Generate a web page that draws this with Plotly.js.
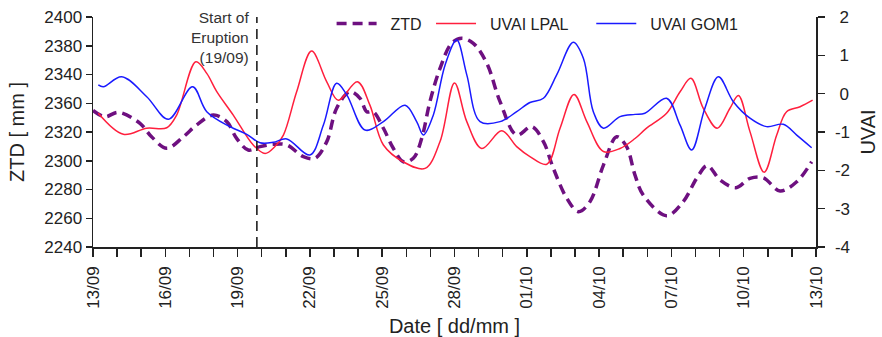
<!DOCTYPE html>
<html>
<head>
<meta charset="utf-8">
<script src="https://cdn.plot.ly/plotly-3.0.1.min.js"></script>
<style>html,body{margin:0;padding:0;background:#fff;}#chart{width:882px;height:337px;}</style>
</head>
<body>
<div id="chart"></div>
<script>
// x = days since 13/09
const xTickVals = [0, 3, 6, 9, 12, 15, 18, 21, 24, 27, 30];
const xTickText = ['13/09', '16/09', '19/09', '22/09', '25/09', '28/09', '01/10', '04/10', '07/10', '10/10', '13/10'];
const ztdTickVals = [2240, 2260, 2280, 2300, 2320, 2340, 2360, 2380, 2400];
const ztdTickText = ['2240', '2260', '2280', '2300', '2320', '2360', '2340', '2380', '2400'];
const uvaiTickVals = [-4, -3, -2, -1, 0, 1, 2];
const uvaiTickText = ['-4', '-3', '-2', '-1', '\u00a00', '\u00a01', '\u00a02'];
const eruptionDay = 6.8;

const ztdDay = [0.0, 0.5, 1.05, 1.95, 2.43, 3.06, 3.75, 4.3, 4.99, 5.55, 5.96, 6.44, 6.93, 7.48, 8.04, 8.73, 9.21, 9.7, 10.11, 10.66, 11.08, 11.36, 11.63, 12.05, 12.46, 12.88, 13.29, 13.64, 13.98, 14.4, 14.88, 15.3, 15.78, 16.34, 16.89, 17.58, 18.2, 18.69, 19.1, 19.66, 20.14, 20.62, 21.18, 21.73, 22.14, 22.49, 22.83, 23.8, 24.49, 25.05, 25.49, 26.02, 26.68, 27.26, 27.81, 28.51, 29.2, 29.82];
const ztdValue = [2335, 2330.6, 2333.7, 2326, 2316.7, 2308.7, 2316.7, 2324.9, 2331.8, 2327.2, 2315.6, 2307.5, 2309.8, 2311.4, 2311, 2302.8, 2301.7, 2313.3, 2336.5, 2348, 2343.4, 2334.1, 2334.1, 2322.6, 2308.7, 2299.3, 2301.7, 2315.6, 2341.1, 2364.3, 2381.7, 2385.2, 2381.7, 2367.8, 2341.1, 2317.9, 2323.7, 2313.3, 2294.8, 2273.9, 2264.6, 2271.5, 2297, 2316.7, 2309.8, 2290, 2276.2, 2261.8, 2271.5, 2287.8, 2296.6, 2286.6, 2281.3, 2287.8, 2288.2, 2279, 2285.4, 2299.3];

const lpalDay = [0.22, 1.26, 2.23, 3.06, 3.47, 4.27, 4.72, 5.13, 5.82, 6.65, 7.14, 7.55, 7.9, 8.45, 9.07, 9.7, 10.18, 10.97, 11.49, 12.05, 12.88, 13.78, 14.4, 15.0, 15.51, 16.13, 16.96, 17.58, 18.13, 18.83, 19.38, 19.96, 20.49, 21.18, 21.87, 22.49, 22.97, 23.8, 24.36, 24.81, 25.32, 25.9, 26.43, 26.78, 27.26, 27.85, 28.37, 28.78, 29.34, 29.86];
const lpalValue = [-0.51, -1.06, -0.9, -0.89, -0.56, 0.83, 0.53, 0.06, -0.56, -1.34, -1.56, -1.38, -1.08, 0.05, 1.11, 0.31, -0.17, 0.31, -0.3, -1.34, -1.78, -1.95, -1.25, 0.28, -0.73, -1.43, -0.97, -1.38, -1.64, -1.84, -0.9, -0.02, -0.73, -1.51, -1.43, -1.17, -0.9, -0.51, 0.05, 0.4, -0.38, -0.9, -0.38, -0.05, -0.99, -2.05, -1.08, -0.47, -0.34, -0.17];

const gomDay = [0.22, 0.43, 1.19, 2.23, 3.13, 4.13, 4.72, 5.68, 6.38, 6.93, 7.48, 8.04, 9.0, 9.56, 10.11, 10.53, 11.29, 12.05, 12.95, 13.43, 13.71, 14.12, 14.61, 15.09, 15.51, 16.06, 16.89, 17.58, 18.13, 18.69, 19.24, 19.93, 20.35, 20.76, 21.18, 21.87, 22.49, 22.9, 23.8, 24.36, 24.84, 25.39, 25.95, 26.57, 27.26, 27.95, 28.64, 29.2, 29.82];
const gomValue = [0.23, 0.18, 0.44, -0.08, -0.67, 0.18, -0.47, -0.86, -1.06, -1.28, -1.27, -1.18, -1.6, -0.82, 0.27, -0.03, -0.95, -0.73, -0.3, -0.73, -1.08, -0.56, 0.75, 1.4, 0.49, -0.73, -0.73, -0.47, -0.23, -0.12, 0.49, 1.34, 0.92, -0.47, -0.9, -0.6, -0.54, -0.51, -0.12, -0.82, -1.47, -0.38, 0.44, -0.21, -0.64, -0.86, -0.8, -1.08, -1.41];

const seriesNames = ['\u00a0\u00a0ZTD\u00a0', '\u00a0\u00a0UVAI LPAL\u00a0\u00a0\u00a0\u00a0', '\u00a0\u00a0UVAI GOM1'];

const FONT = '"Liberation Sans", Arial, sans-serif';
const TXT = '#222';

const traces = [
  {x: ztdDay, y: ztdValue, name: seriesNames[0], type: 'scatter', mode: 'lines', yaxis: 'y',
   line: {color: '#6E1080', width: 3.5, dash: '10px,6px', shape: 'spline', smoothing: 1}},
  {x: lpalDay, y: lpalValue, name: seriesNames[1], type: 'scatter', mode: 'lines', yaxis: 'y2',
   line: {color: '#FF1F3D', width: 1.5, shape: 'spline', smoothing: 1}},
  {x: gomDay, y: gomValue, name: seriesNames[2], type: 'scatter', mode: 'lines', yaxis: 'y2',
   line: {color: '#1A1AFF', width: 1.5, shape: 'spline', smoothing: 1}}
];

const layout = {
  width: 882, height: 337,
  margin: {l: 93, r: 66, t: 17, b: 90, autoexpand: false},
  paper_bgcolor: '#fff', plot_bgcolor: '#fff',
  font: {family: FONT, color: TXT, size: 17},
  showlegend: true,
  legend: {orientation: 'h', x: 0.33, xanchor: 'left', y: 1.045, yanchor: 'top',
           font: {size: 16, color: TXT}, itemwidth: 40, bgcolor: 'rgba(0,0,0,0)', traceorder: 'normal'},
  xaxis: {
    range: [0, 30], tickmode: 'array', tickvals: xTickVals, ticktext: xTickText, tickangle: -90,
    showgrid: false, zeroline: false, showline: true, linecolor: '#222', linewidth: 1.5,
    ticks: 'outside', ticklen: 8, tickwidth: 1.5, tickcolor: '#222',
    tickfont: {size: 17, color: TXT}, ticklabelstandoff: 3,
    minor: {tickmode: 'linear', tick0: 0, dtick: 1, ticks: 'outside', ticklen: 8, tickwidth: 1.5, tickcolor: '#222', showgrid: false},
    title: {text: 'Date [ dd/mm ]', font: {size: 20, color: TXT}, standoff: 12}
  },
  yaxis: {
    range: [2240, 2400], tickmode: 'array', tickvals: ztdTickVals, ticktext: ztdTickText,
    showgrid: false, zeroline: false, showline: true, linecolor: '#222', linewidth: 1.5,
    ticks: 'outside', ticklen: 6, tickwidth: 1.5, tickcolor: '#222',
    tickfont: {size: 17, color: TXT},
    title: {text: 'ZTD [ mm ]', font: {size: 20, color: TXT}, standoff: 14}
  },
  yaxis2: {
    range: [-4, 2], tickmode: 'array', tickvals: uvaiTickVals, ticktext: uvaiTickText,
    overlaying: 'y', side: 'right',
    showgrid: false, zeroline: false, showline: true, linecolor: '#222', linewidth: 1.5,
    ticks: 'outside', ticklen: 7, tickwidth: 1.5, tickcolor: '#222',
    tickfont: {size: 17, color: TXT}, ticklabelstandoff: 7,
    title: {text: 'UVAI', font: {size: 20, color: TXT}, standoff: 12}
  },
  shapes: [
    {type: 'line', xref: 'x', yref: 'paper', x0: eruptionDay, x1: eruptionDay, y0: 0, y1: 1,
     line: {color: '#111', width: 1.5, dash: '10px,6px'}}
  ],
  annotations: [
    {xref: 'x', yref: 'paper', x: eruptionDay, y: 1.01, xanchor: 'right', yanchor: 'top', xshift: -6, yshift: 8,
     align: 'right', showarrow: false, text: 'Start of<br>Eruption<br>(19/09)',
     font: {size: 15.5, color: '#333', family: FONT}}
  ]
};

Plotly.newPlot('chart', traces, layout, {displayModeBar: false, staticPlot: true});
</script>
</body>
</html>
